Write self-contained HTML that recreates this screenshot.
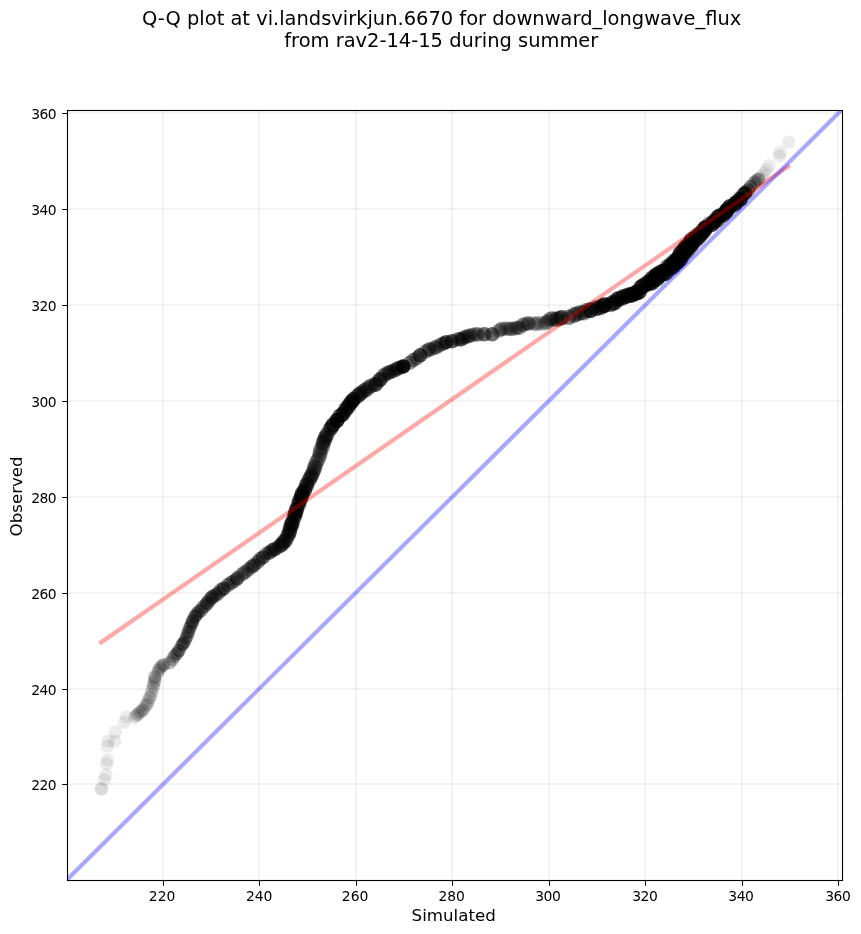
<!DOCTYPE html>
<html lang="en"><head><meta charset="utf-8"><title>Q-Q plot</title>
<style>html,body{margin:0;padding:0;background:#fff;width:861px;height:934px;overflow:hidden}</style>
</head><body>
<svg width="861" height="934" viewBox="0 0 861 934" style="position:absolute;left:0;top:0;will-change:transform">
<rect x="0" y="0" width="861" height="934" fill="#fff"/>
<g stroke="#000" stroke-opacity="0.047" stroke-width="2" fill="none"><path d="M163.00 110.5V880.5M259.00 110.5V880.5M356.00 110.5V880.5M452.00 110.5V880.5M549.00 110.5V880.5M645.00 110.5V880.5M742.00 110.5V880.5M838.00 110.5V880.5"/><path d="M67.5 784.00H842.5M67.5 689.00H842.5M67.5 593.00H842.5M67.5 497.00H842.5M67.5 401.00H842.5M67.5 305.00H842.5M67.5 209.00H842.5M67.5 113.00H842.5"/></g>
<clipPath id="c"><rect x="67.5" y="110.5" width="775.0" height="770.0"/></clipPath>
<g fill="#000" fill-opacity="0.075" clip-path="url(#c)"><circle cx="101.4" cy="789.2" r="6.75"/><circle cx="101.6" cy="788.6" r="6.75"/><circle cx="104.2" cy="779.7" r="6.75"/><circle cx="106.0" cy="775.3" r="6.75"/><circle cx="106.6" cy="764.1" r="6.75"/><circle cx="107.5" cy="759.9" r="6.75"/><circle cx="107.5" cy="746.3" r="6.75"/><circle cx="108.2" cy="741.3" r="6.75"/><circle cx="114.8" cy="741.3" r="6.75"/><circle cx="115.3" cy="732.0" r="6.75"/><circle cx="124.2" cy="722.3" r="6.75"/><circle cx="126.5" cy="717.1" r="6.75"/><circle cx="134.9" cy="717.2" r="6.75" fill-opacity="0.106"/><circle cx="136.2" cy="715.2" r="6.75" fill-opacity="0.101"/><circle cx="137.8" cy="714.3" r="6.75" fill-opacity="0.191"/><circle cx="140.2" cy="711.9" r="6.75" fill-opacity="0.219"/><circle cx="142.9" cy="710.0" r="6.75" fill-opacity="0.243"/><circle cx="144.8" cy="706.9" r="6.75" fill-opacity="0.071"/><circle cx="145.3" cy="705.7" r="6.75" fill-opacity="0.027"/><circle cx="145.8" cy="705.5" r="6.75" fill-opacity="0.048"/><circle cx="146.2" cy="704.9" r="6.75" fill-opacity="0.084"/><circle cx="147.5" cy="704.0" r="6.75" fill-opacity="0.153"/><circle cx="148.1" cy="701.0" r="6.75" fill-opacity="0.114"/><circle cx="149.2" cy="698.5" r="6.75" fill-opacity="0.075"/><circle cx="149.9" cy="697.2" r="6.75" fill-opacity="0.156"/><circle cx="151.4" cy="694.5" r="6.75" fill-opacity="0.105"/><circle cx="151.6" cy="691.2" r="6.75" fill-opacity="0.136"/><circle cx="152.9" cy="688.3" r="6.75" fill-opacity="0.082"/><circle cx="153.5" cy="686.5" r="6.75" fill-opacity="0.125"/><circle cx="153.6" cy="683.7" r="6.75" fill-opacity="0.172"/><circle cx="154.8" cy="681.0" r="6.75" fill-opacity="0.162"/><circle cx="154.7" cy="678.9" r="6.75" fill-opacity="0.043"/><circle cx="154.9" cy="678.3" r="6.75" fill-opacity="0.080"/><circle cx="154.8" cy="677.0" r="6.75" fill-opacity="0.218"/><circle cx="157.5" cy="673.2" r="6.75" fill-opacity="0.127"/><circle cx="158.4" cy="670.8" r="6.75" fill-opacity="0.121"/><circle cx="158.9" cy="669.4" r="6.75" fill-opacity="0.097"/><circle cx="159.9" cy="668.7" r="6.75" fill-opacity="0.097"/><circle cx="160.4" cy="667.1" r="6.75" fill-opacity="0.164"/><circle cx="162.0" cy="666.1" r="6.75" fill-opacity="0.140"/><circle cx="163.7" cy="664.8" r="6.75" fill-opacity="0.273"/><circle cx="169.7" cy="662.8" r="6.75" fill-opacity="0.262"/><circle cx="172.7" cy="659.4" r="6.75" fill-opacity="0.244"/><circle cx="174.0" cy="656.5" r="6.75" fill-opacity="0.276"/><circle cx="175.4" cy="654.4" r="6.75" fill-opacity="0.134"/><circle cx="177.1" cy="653.6" r="6.75" fill-opacity="0.374"/><circle cx="178.9" cy="650.6" r="6.75" fill-opacity="0.432"/><circle cx="181.4" cy="646.8" r="6.75" fill-opacity="0.134"/><circle cx="181.6" cy="645.2" r="6.75" fill-opacity="0.171"/><circle cx="182.6" cy="644.0" r="6.75" fill-opacity="0.077"/><circle cx="183.0" cy="643.7" r="6.75" fill-opacity="0.454"/><circle cx="184.8" cy="641.2" r="6.75" fill-opacity="0.318"/><circle cx="186.0" cy="637.9" r="6.75" fill-opacity="0.336"/><circle cx="187.5" cy="635.5" r="6.75" fill-opacity="0.274"/><circle cx="187.4" cy="632.8" r="6.75" fill-opacity="0.183"/><circle cx="188.7" cy="631.8" r="6.75" fill-opacity="0.378"/><circle cx="189.3" cy="628.3" r="6.75" fill-opacity="0.211"/><circle cx="190.3" cy="626.9" r="6.76" fill-opacity="0.303"/><circle cx="191.2" cy="624.8" r="6.77" fill-opacity="0.154"/><circle cx="191.9" cy="623.7" r="6.79" fill-opacity="0.276"/><circle cx="192.5" cy="621.1" r="6.80" fill-opacity="0.504"/><circle cx="195.2" cy="617.3" r="6.85" fill-opacity="0.118"/><circle cx="195.0" cy="616.4" r="6.85" fill-opacity="0.461"/><circle cx="196.9" cy="614.0" r="6.89" fill-opacity="0.386"/><circle cx="198.6" cy="611.6" r="6.92" fill-opacity="0.316"/><circle cx="201.0" cy="610.5" r="6.97" fill-opacity="0.359"/><circle cx="202.4" cy="607.5" r="7.00" fill-opacity="0.173"/><circle cx="203.5" cy="607.0" r="7.02" fill-opacity="0.204"/><circle cx="204.8" cy="606.0" r="7.05" fill-opacity="0.240"/><circle cx="206.6" cy="604.5" r="7.08" fill-opacity="0.155"/><circle cx="207.1" cy="603.1" r="7.09" fill-opacity="0.487"/><circle cx="209.4" cy="600.4" r="7.14" fill-opacity="0.277"/><circle cx="210.4" cy="598.7" r="7.15" fill-opacity="0.206"/><circle cx="212.3" cy="598.2" r="7.15" fill-opacity="0.110"/><circle cx="212.2" cy="597.0" r="7.15" fill-opacity="0.526"/><circle cx="215.6" cy="595.1" r="7.15" fill-opacity="0.444"/><circle cx="218.6" cy="592.9" r="7.15" fill-opacity="0.396"/><circle cx="220.8" cy="590.1" r="7.15" fill-opacity="0.378"/><circle cx="223.6" cy="588.6" r="7.15" fill-opacity="0.566"/><circle cx="227.3" cy="585.1" r="7.15" fill-opacity="0.115"/><circle cx="228.3" cy="584.9" r="7.15" fill-opacity="0.348"/><circle cx="230.8" cy="583.0" r="7.15" fill-opacity="0.326"/><circle cx="233.1" cy="581.6" r="7.15" fill-opacity="0.354"/><circle cx="235.7" cy="580.3" r="7.15" fill-opacity="0.279"/><circle cx="237.4" cy="578.2" r="7.15" fill-opacity="0.534"/><circle cx="241.3" cy="574.9" r="7.15" fill-opacity="0.217"/><circle cx="242.7" cy="574.1" r="7.15" fill-opacity="0.069"/><circle cx="242.9" cy="573.3" r="7.15" fill-opacity="0.196"/><circle cx="244.8" cy="572.5" r="7.15" fill-opacity="0.348"/><circle cx="247.1" cy="570.9" r="7.15" fill-opacity="0.185"/><circle cx="248.3" cy="569.5" r="7.15" fill-opacity="0.298"/><circle cx="250.5" cy="567.6" r="7.15" fill-opacity="0.150"/><circle cx="251.6" cy="566.8" r="7.15" fill-opacity="0.174"/><circle cx="252.7" cy="566.1" r="7.15" fill-opacity="0.417"/><circle cx="254.6" cy="564.7" r="7.15" fill-opacity="0.381"/><circle cx="258.0" cy="561.9" r="7.15" fill-opacity="0.389"/><circle cx="259.9" cy="559.2" r="7.15" fill-opacity="0.406"/><circle cx="263.1" cy="557.3" r="7.15" fill-opacity="0.551"/><circle cx="266.0" cy="553.7" r="7.15" fill-opacity="0.274"/><circle cx="268.5" cy="553.0" r="7.15" fill-opacity="0.247"/><circle cx="269.9" cy="552.5" r="7.15" fill-opacity="0.444"/><circle cx="272.2" cy="550.2" r="7.21" fill-opacity="0.452"/><circle cx="274.8" cy="549.2" r="7.28" fill-opacity="0.604"/><circle cx="279.2" cy="546.6" r="7.39" fill-opacity="0.101"/><circle cx="279.3" cy="546.3" r="7.40" fill-opacity="0.413"/><circle cx="281.1" cy="545.1" r="7.45" fill-opacity="0.324"/><circle cx="282.3" cy="543.9" r="7.48" fill-opacity="0.515"/><circle cx="283.6" cy="541.5" r="7.51" fill-opacity="0.315"/><circle cx="285.2" cy="540.9" r="7.55" fill-opacity="0.568"/><circle cx="287.2" cy="537.6" r="7.55" fill-opacity="0.377"/><circle cx="287.6" cy="535.2" r="7.55" fill-opacity="0.214"/><circle cx="288.8" cy="534.0" r="7.55" fill-opacity="0.490"/><circle cx="289.7" cy="531.3" r="7.55" fill-opacity="0.543"/><circle cx="290.1" cy="528.5" r="7.55" fill-opacity="0.502"/><circle cx="290.7" cy="525.7" r="7.55" fill-opacity="0.327"/><circle cx="291.8" cy="524.8" r="7.55" fill-opacity="0.503"/><circle cx="292.2" cy="522.6" r="7.55" fill-opacity="0.663"/><circle cx="293.6" cy="518.4" r="7.55" fill-opacity="0.311"/><circle cx="294.6" cy="516.8" r="7.55" fill-opacity="0.369"/><circle cx="294.6" cy="514.5" r="7.55" fill-opacity="0.161"/><circle cx="295.3" cy="513.7" r="7.55" fill-opacity="0.736"/><circle cx="296.5" cy="510.6" r="7.55" fill-opacity="0.251"/><circle cx="296.6" cy="509.1" r="7.55" fill-opacity="0.689"/><circle cx="298.5" cy="505.0" r="7.55" fill-opacity="0.133"/><circle cx="298.9" cy="504.4" r="7.55" fill-opacity="0.453"/><circle cx="298.8" cy="502.5" r="7.55" fill-opacity="0.344"/><circle cx="299.3" cy="501.0" r="7.55" fill-opacity="0.410"/><circle cx="300.3" cy="499.4" r="7.55" fill-opacity="0.416"/><circle cx="301.5" cy="497.7" r="7.55" fill-opacity="0.260"/><circle cx="301.3" cy="496.5" r="7.55" fill-opacity="0.526"/><circle cx="302.3" cy="494.8" r="7.55" fill-opacity="0.241"/><circle cx="302.2" cy="493.3" r="7.55" fill-opacity="0.632"/><circle cx="304.5" cy="490.2" r="7.55" fill-opacity="0.674"/><circle cx="306.2" cy="487.1" r="7.55" fill-opacity="0.144"/><circle cx="306.5" cy="486.2" r="7.55" fill-opacity="0.340"/><circle cx="306.8" cy="484.1" r="7.55" fill-opacity="0.579"/><circle cx="309.0" cy="480.7" r="7.55" fill-opacity="0.324"/><circle cx="309.3" cy="478.9" r="7.55" fill-opacity="0.178"/><circle cx="310.0" cy="478.2" r="7.55" fill-opacity="0.380"/><circle cx="311.3" cy="476.0" r="7.55" fill-opacity="0.481"/><circle cx="312.4" cy="473.4" r="7.55" fill-opacity="0.467"/><circle cx="313.9" cy="470.3" r="7.55" fill-opacity="0.353"/><circle cx="314.4" cy="468.3" r="7.55" fill-opacity="0.140"/><circle cx="315.1" cy="467.6" r="7.55" fill-opacity="0.156"/><circle cx="314.9" cy="466.6" r="7.55" fill-opacity="0.392"/><circle cx="315.9" cy="463.2" r="7.55" fill-opacity="0.151"/><circle cx="316.5" cy="462.1" r="7.55" fill-opacity="0.271"/><circle cx="318.2" cy="459.6" r="7.55" fill-opacity="0.336"/><circle cx="319.2" cy="456.8" r="7.55" fill-opacity="0.069"/><circle cx="319.6" cy="456.0" r="7.55" fill-opacity="0.206"/><circle cx="320.1" cy="454.5" r="7.55" fill-opacity="0.241"/><circle cx="320.1" cy="452.2" r="7.55" fill-opacity="0.295"/><circle cx="320.6" cy="449.4" r="7.55" fill-opacity="0.307"/><circle cx="322.4" cy="447.7" r="7.55" fill-opacity="0.326"/><circle cx="323.1" cy="444.7" r="7.55" fill-opacity="0.165"/><circle cx="323.6" cy="443.6" r="7.55" fill-opacity="0.138"/><circle cx="323.1" cy="442.4" r="7.55" fill-opacity="0.474"/><circle cx="324.5" cy="440.2" r="7.55" fill-opacity="0.351"/><circle cx="325.4" cy="437.7" r="7.55" fill-opacity="0.546"/><circle cx="326.9" cy="434.6" r="7.55" fill-opacity="0.528"/><circle cx="329.5" cy="430.2" r="7.55" fill-opacity="0.325"/><circle cx="331.1" cy="428.1" r="7.55" fill-opacity="0.042"/><circle cx="331.0" cy="427.8" r="7.55" fill-opacity="0.592"/><circle cx="333.0" cy="424.9" r="7.55" fill-opacity="0.728"/><circle cx="336.3" cy="420.7" r="7.55" fill-opacity="0.144"/><circle cx="337.1" cy="420.3" r="7.55" fill-opacity="0.841"/><circle cx="340.1" cy="415.7" r="7.55" fill-opacity="0.573"/><circle cx="342.6" cy="414.4" r="7.55" fill-opacity="0.708"/><circle cx="344.7" cy="411.4" r="7.55" fill-opacity="0.268"/><circle cx="345.1" cy="410.2" r="7.55" fill-opacity="0.212"/><circle cx="346.0" cy="409.7" r="7.55" fill-opacity="0.411"/><circle cx="346.6" cy="407.8" r="7.55" fill-opacity="0.377"/><circle cx="348.5" cy="406.7" r="7.55" fill-opacity="0.484"/><circle cx="349.5" cy="404.3" r="7.55" fill-opacity="0.446"/><circle cx="350.2" cy="403.0" r="7.55" fill-opacity="0.240"/><circle cx="351.2" cy="401.7" r="7.55" fill-opacity="0.219"/><circle cx="352.1" cy="401.6" r="7.55" fill-opacity="0.625"/><circle cx="353.6" cy="399.4" r="7.55" fill-opacity="0.683"/><circle cx="356.7" cy="397.0" r="7.55" fill-opacity="0.127"/><circle cx="356.9" cy="396.1" r="7.55" fill-opacity="0.233"/><circle cx="357.9" cy="395.8" r="7.55" fill-opacity="0.170"/><circle cx="358.8" cy="395.4" r="7.55" fill-opacity="0.209"/><circle cx="359.5" cy="394.2" r="7.55" fill-opacity="0.380"/><circle cx="360.9" cy="393.2" r="7.54" fill-opacity="0.378"/><circle cx="362.3" cy="392.0" r="7.53" fill-opacity="0.261"/><circle cx="363.8" cy="390.7" r="7.52" fill-opacity="0.271"/><circle cx="365.5" cy="390.1" r="7.51" fill-opacity="0.418"/><circle cx="367.5" cy="388.2" r="7.49" fill-opacity="0.270"/><circle cx="369.1" cy="387.4" r="7.48" fill-opacity="0.228"/><circle cx="370.6" cy="386.0" r="7.47" fill-opacity="0.431"/><circle cx="373.7" cy="384.9" r="7.45" fill-opacity="0.252"/><circle cx="375.8" cy="384.2" r="7.43" fill-opacity="0.640"/><circle cx="378.7" cy="381.1" r="7.41" fill-opacity="0.223"/><circle cx="379.4" cy="379.5" r="7.40" fill-opacity="0.144"/><circle cx="380.4" cy="379.4" r="7.40" fill-opacity="0.586"/><circle cx="383.0" cy="376.6" r="7.38" fill-opacity="0.159"/><circle cx="383.5" cy="375.6" r="7.37" fill-opacity="0.208"/><circle cx="385.0" cy="374.5" r="7.36" fill-opacity="0.328"/><circle cx="386.9" cy="373.2" r="7.35" fill-opacity="0.129"/><circle cx="387.8" cy="373.3" r="7.34" fill-opacity="0.271"/><circle cx="389.0" cy="372.4" r="7.33" fill-opacity="0.292"/><circle cx="390.3" cy="371.9" r="7.32" fill-opacity="0.374"/><circle cx="392.8" cy="371.4" r="7.30" fill-opacity="0.369"/><circle cx="394.9" cy="369.9" r="7.29" fill-opacity="0.288"/><circle cx="396.4" cy="369.5" r="7.28" fill-opacity="0.350"/><circle cx="397.6" cy="368.4" r="7.27" fill-opacity="0.212"/><circle cx="398.7" cy="368.0" r="7.26" fill-opacity="0.452"/><circle cx="401.4" cy="366.8" r="7.25" fill-opacity="0.191"/><circle cx="402.8" cy="367.2" r="7.25" fill-opacity="0.120"/><circle cx="403.3" cy="366.4" r="7.25" fill-opacity="0.866"/><circle cx="409.9" cy="362.7" r="7.25" fill-opacity="0.418"/><circle cx="413.3" cy="360.1" r="7.25" fill-opacity="0.411"/><circle cx="416.9" cy="358.1" r="7.25" fill-opacity="0.377"/><circle cx="420.2" cy="355.3" r="7.25" fill-opacity="0.662"/><circle cx="425.7" cy="351.5" r="7.25" fill-opacity="0.371"/><circle cx="428.7" cy="350.3" r="7.25" fill-opacity="0.166"/><circle cx="429.3" cy="349.4" r="7.25" fill-opacity="0.500"/><circle cx="432.7" cy="348.9" r="7.25" fill-opacity="0.189"/><circle cx="434.3" cy="347.3" r="7.25" fill-opacity="0.238"/><circle cx="436.1" cy="347.4" r="7.25" fill-opacity="0.423"/><circle cx="439.2" cy="345.5" r="7.25" fill-opacity="0.250"/><circle cx="441.3" cy="344.4" r="7.25" fill-opacity="0.320"/><circle cx="443.5" cy="343.4" r="7.25" fill-opacity="0.388"/><circle cx="446.2" cy="342.2" r="7.25" fill-opacity="0.664"/><circle cx="452.2" cy="341.2" r="7.25" fill-opacity="0.639"/><circle cx="457.3" cy="339.2" r="7.25" fill-opacity="0.131"/><circle cx="458.3" cy="339.2" r="7.25" fill-opacity="0.358"/><circle cx="460.4" cy="339.5" r="7.25" fill-opacity="0.250"/><circle cx="461.6" cy="339.2" r="7.25" fill-opacity="0.509"/><circle cx="464.2" cy="337.3" r="7.25" fill-opacity="0.441"/><circle cx="466.7" cy="337.1" r="7.25" fill-opacity="0.250"/><circle cx="467.8" cy="336.1" r="7.25" fill-opacity="0.255"/><circle cx="469.7" cy="335.7" r="7.25" fill-opacity="0.369"/><circle cx="472.2" cy="335.1" r="7.25" fill-opacity="0.338"/><circle cx="474.9" cy="334.1" r="7.25" fill-opacity="0.098"/><circle cx="475.8" cy="334.3" r="7.25" fill-opacity="0.250"/><circle cx="477.9" cy="334.6" r="7.25" fill-opacity="0.382"/><circle cx="482.7" cy="334.3" r="7.25" fill-opacity="0.128"/><circle cx="484.6" cy="334.3" r="7.25" fill-opacity="0.513"/><circle cx="492.2" cy="334.3" r="7.25" fill-opacity="0.568"/><circle cx="498.8" cy="331.4" r="7.25" fill-opacity="0.118"/><circle cx="499.1" cy="330.4" r="7.25" fill-opacity="0.292"/><circle cx="501.6" cy="329.1" r="7.25" fill-opacity="0.391"/><circle cx="505.3" cy="328.8" r="7.25" fill-opacity="0.253"/><circle cx="507.5" cy="328.4" r="7.25" fill-opacity="0.215"/><circle cx="509.9" cy="328.9" r="7.25" fill-opacity="0.154"/><circle cx="511.1" cy="328.9" r="7.25" fill-opacity="0.366"/><circle cx="514.8" cy="328.5" r="7.25" fill-opacity="0.333"/><circle cx="517.1" cy="327.7" r="7.25" fill-opacity="0.318"/><circle cx="519.5" cy="327.9" r="7.25" fill-opacity="0.309"/><circle cx="522.2" cy="325.4" r="7.25" fill-opacity="0.196"/><circle cx="523.7" cy="324.5" r="7.25" fill-opacity="0.329"/><circle cx="526.4" cy="323.4" r="7.25" fill-opacity="0.195"/><circle cx="528.4" cy="323.6" r="7.25" fill-opacity="0.470"/><circle cx="533.1" cy="323.2" r="7.25" fill-opacity="0.172"/><circle cx="535.0" cy="324.0" r="7.25" fill-opacity="0.159"/><circle cx="536.2" cy="324.2" r="7.25" fill-opacity="0.172"/><circle cx="538.2" cy="323.0" r="7.25" fill-opacity="0.232"/><circle cx="541.2" cy="323.9" r="7.28" fill-opacity="0.178"/><circle cx="544.2" cy="323.2" r="7.35" fill-opacity="0.108"/><circle cx="545.2" cy="323.1" r="7.38" fill-opacity="0.151"/><circle cx="546.5" cy="322.4" r="7.41" fill-opacity="0.211"/><circle cx="548.3" cy="321.5" r="7.46" fill-opacity="0.250"/><circle cx="549.7" cy="319.4" r="7.49" fill-opacity="0.323"/><circle cx="552.1" cy="318.5" r="7.55" fill-opacity="0.369"/><circle cx="555.2" cy="319.2" r="7.63" fill-opacity="0.087"/><circle cx="555.7" cy="319.3" r="7.64" fill-opacity="0.340"/><circle cx="557.9" cy="319.0" r="7.70" fill-opacity="0.406"/><circle cx="561.4" cy="317.8" r="7.75" fill-opacity="0.681"/><circle cx="568.8" cy="317.3" r="7.77" fill-opacity="0.476"/><circle cx="573.3" cy="315.8" r="7.78" fill-opacity="0.181"/><circle cx="574.1" cy="314.9" r="7.78" fill-opacity="0.217"/><circle cx="575.7" cy="314.4" r="7.79" fill-opacity="0.394"/><circle cx="578.6" cy="313.2" r="7.79" fill-opacity="0.287"/><circle cx="580.8" cy="312.7" r="7.80" fill-opacity="0.353"/><circle cx="584.1" cy="312.8" r="7.81" fill-opacity="0.406"/><circle cx="586.3" cy="310.6" r="7.81" fill-opacity="0.276"/><circle cx="588.2" cy="310.4" r="7.82" fill-opacity="0.274"/><circle cx="590.8" cy="310.1" r="7.82" fill-opacity="0.721"/><circle cx="596.2" cy="308.1" r="7.84" fill-opacity="0.526"/><circle cx="599.0" cy="307.8" r="7.84" fill-opacity="0.457"/><circle cx="601.5" cy="306.9" r="7.85" fill-opacity="0.419"/><circle cx="603.0" cy="305.8" r="7.85" fill-opacity="0.307"/><circle cx="604.3" cy="305.1" r="7.85" fill-opacity="0.763"/><circle cx="610.5" cy="304.5" r="7.87" fill-opacity="0.495"/><circle cx="612.6" cy="302.9" r="7.87" fill-opacity="0.539"/><circle cx="614.7" cy="302.6" r="7.88" fill-opacity="0.539"/><circle cx="617.0" cy="299.8" r="7.88" fill-opacity="0.411"/><circle cx="618.7" cy="298.9" r="7.89" fill-opacity="0.656"/><circle cx="622.5" cy="298.0" r="7.90" fill-opacity="0.354"/><circle cx="623.5" cy="296.8" r="7.90" fill-opacity="0.609"/><circle cx="626.8" cy="296.0" r="7.91" fill-opacity="0.535"/><circle cx="628.9" cy="295.0" r="7.91" fill-opacity="0.270"/><circle cx="630.0" cy="295.2" r="7.91" fill-opacity="0.613"/><circle cx="632.6" cy="294.5" r="7.92" fill-opacity="0.729"/><circle cx="636.1" cy="292.8" r="7.93" fill-opacity="0.799"/><circle cx="638.9" cy="291.8" r="7.94" fill-opacity="0.727"/><circle cx="641.4" cy="287.1" r="7.94" fill-opacity="0.764"/><circle cx="644.4" cy="285.2" r="7.95" fill-opacity="0.619"/><circle cx="646.9" cy="283.8" r="8.14" fill-opacity="0.464"/><circle cx="649.1" cy="282.5" r="8.36" fill-opacity="0.522"/><circle cx="651.3" cy="282.2" r="8.58" fill-opacity="0.668"/><circle cx="652.6" cy="280.3" r="8.71" fill-opacity="0.286"/><circle cx="652.8" cy="278.8" r="8.73" fill-opacity="0.638"/><circle cx="655.5" cy="278.3" r="8.95" fill-opacity="0.208"/><circle cx="656.4" cy="277.9" r="8.95" fill-opacity="0.448"/><circle cx="657.3" cy="275.8" r="8.95" fill-opacity="0.826"/><circle cx="661.9" cy="272.9" r="8.95" fill-opacity="0.747"/><circle cx="664.9" cy="272.2" r="8.95" fill-opacity="0.686"/><circle cx="668.3" cy="267.7" r="8.95" fill-opacity="0.471"/><circle cx="670.3" cy="267.3" r="8.95" fill-opacity="0.498"/><circle cx="671.1" cy="265.5" r="8.95" fill-opacity="0.183"/><circle cx="672.1" cy="265.7" r="8.95" fill-opacity="0.341"/><circle cx="673.2" cy="264.8" r="8.95" fill-opacity="0.469"/><circle cx="673.9" cy="262.7" r="8.95" fill-opacity="0.270"/><circle cx="675.5" cy="262.3" r="8.95" fill-opacity="0.491"/><circle cx="676.8" cy="260.9" r="8.95" fill-opacity="0.311"/><circle cx="677.7" cy="260.5" r="8.95" fill-opacity="0.607"/><circle cx="679.8" cy="258.5" r="8.95" fill-opacity="0.517"/><circle cx="680.4" cy="255.5" r="8.95" fill-opacity="0.233"/><circle cx="681.7" cy="255.4" r="8.95" fill-opacity="0.209"/><circle cx="681.4" cy="253.8" r="8.95" fill-opacity="0.658"/><circle cx="683.9" cy="251.5" r="8.95" fill-opacity="0.566"/><circle cx="686.5" cy="250.7" r="8.95" fill-opacity="0.246"/><circle cx="686.0" cy="248.8" r="8.95" fill-opacity="0.500"/><circle cx="686.9" cy="247.3" r="8.95" fill-opacity="0.612"/><circle cx="689.7" cy="245.2" r="8.95" fill-opacity="0.673"/><circle cx="691.6" cy="242.6" r="8.95" fill-opacity="0.562"/><circle cx="692.6" cy="240.5" r="8.95" fill-opacity="0.634"/><circle cx="695.7" cy="239.0" r="8.86" fill-opacity="0.376"/><circle cx="696.4" cy="236.9" r="8.78" fill-opacity="0.341"/><circle cx="698.1" cy="236.7" r="8.58" fill-opacity="0.578"/><circle cx="699.8" cy="234.4" r="8.37" fill-opacity="0.446"/><circle cx="701.7" cy="233.2" r="8.15" fill-opacity="0.515"/><circle cx="702.7" cy="231.2" r="8.03" fill-opacity="0.432"/><circle cx="704.7" cy="230.6" r="7.78" fill-opacity="0.506"/><circle cx="705.1" cy="228.1" r="7.75" fill-opacity="0.864"/><circle cx="708.6" cy="225.9" r="7.73" fill-opacity="0.284"/><circle cx="709.2" cy="224.1" r="7.73" fill-opacity="0.399"/><circle cx="712.0" cy="224.3" r="7.71" fill-opacity="0.669"/><circle cx="713.8" cy="222.4" r="7.70" fill-opacity="0.563"/><circle cx="714.8" cy="220.7" r="7.69" fill-opacity="0.564"/><circle cx="717.5" cy="220.1" r="7.68" fill-opacity="0.502"/><circle cx="717.7" cy="217.2" r="7.68" fill-opacity="0.585"/><circle cx="719.7" cy="215.9" r="7.67" fill-opacity="0.698"/><circle cx="722.9" cy="215.2" r="7.65" fill-opacity="0.653"/><circle cx="725.0" cy="212.8" r="7.64" fill-opacity="0.570"/><circle cx="726.8" cy="211.9" r="7.63" fill-opacity="0.241"/><circle cx="726.7" cy="210.5" r="7.63" fill-opacity="0.240"/><circle cx="727.0" cy="209.8" r="7.62" fill-opacity="0.814"/><circle cx="729.9" cy="206.7" r="7.61" fill-opacity="0.782"/><circle cx="734.5" cy="204.9" r="7.58" fill-opacity="0.537"/><circle cx="736.0" cy="202.7" r="7.57" fill-opacity="0.810"/><circle cx="739.1" cy="198.5" r="7.56" fill-opacity="0.200"/><circle cx="740.4" cy="199.1" r="7.52" fill-opacity="0.862"/><circle cx="743.5" cy="194.4" r="7.32" fill-opacity="0.442"/><circle cx="745.2" cy="192.9" r="7.20" fill-opacity="0.723"/><circle cx="748.0" cy="190.2" r="7.02" fill-opacity="0.472"/><circle cx="750.6" cy="186.6" r="6.85" fill-opacity="0.402"/><circle cx="753.5" cy="183.4" r="6.75" fill-opacity="0.069"/><circle cx="754.2" cy="183.1" r="6.75" fill-opacity="0.142"/><circle cx="755.0" cy="182.1" r="6.75" fill-opacity="0.235"/><circle cx="756.1" cy="180.2" r="6.75" fill-opacity="0.111"/><circle cx="757.4" cy="180.2" r="6.75" fill-opacity="0.133"/><circle cx="758.7" cy="179.1" r="6.75" fill-opacity="0.295"/><circle cx="761.5" cy="176.4" r="6.75" fill-opacity="0.074"/><circle cx="764.1" cy="173.4" r="6.75"/><circle cx="766.2" cy="169.9" r="6.75"/><circle cx="769.0" cy="165.7" r="6.75"/><circle cx="779.4" cy="156.1" r="6.75"/><circle cx="780.1" cy="152.2" r="6.75"/><circle cx="788.5" cy="142.3" r="6.75"/></g>
<g clip-path="url(#c)" fill="none" stroke-width="4.17"><path d="M101.1 642.3L788.1 166.5" stroke="#f00" stroke-opacity="0.34" stroke-linecap="square"/><path d="M66.44 880.29L842.94 108.63" stroke="#00f" stroke-opacity="0.34" stroke-linecap="square"/></g>
<rect x="67.5" y="110.5" width="775.0" height="770.0" fill="none" stroke="#000" stroke-width="1.1"/>
<path d="M163.50 880.5v5.3M259.50 880.5v5.3M356.50 880.5v5.3M452.50 880.5v5.3M549.50 880.5v5.3M645.50 880.5v5.3M742.50 880.5v5.3M838.50 880.5v5.3M67.5 784.50h-5.3M67.5 689.50h-5.3M67.5 593.50h-5.3M67.5 497.50h-5.3M67.5 401.50h-5.3M67.5 305.50h-5.3M67.5 209.50h-5.3M67.5 113.50h-5.3" stroke="#000" stroke-width="1.1" fill="none"/>
<g font-family="DejaVu Sans, Liberation Sans, sans-serif" font-size="13.89" fill="#000">
<text x="162.10" y="900.9" text-anchor="middle">220</text>
<text x="259.20" y="900.9" text-anchor="middle">240</text>
<text x="355.10" y="900.9" text-anchor="middle">260</text>
<text x="451.70" y="900.9" text-anchor="middle">280</text>
<text x="547.80" y="900.9" text-anchor="middle" letter-spacing="-0.4">300</text>
<text x="644.80" y="900.9" text-anchor="middle" letter-spacing="-0.4">320</text>
<text x="740.90" y="900.9" text-anchor="middle" letter-spacing="-0.4">340</text>
<text x="837.80" y="900.9" text-anchor="middle" letter-spacing="-0.4">360</text>
<text x="55.9" y="790.10" text-anchor="end" letter-spacing="-0.65">220</text>
<text x="55.9" y="695.10" text-anchor="end" letter-spacing="-0.65">240</text>
<text x="55.9" y="599.10" text-anchor="end" letter-spacing="-0.65">260</text>
<text x="55.9" y="503.10" text-anchor="end" letter-spacing="-0.65">280</text>
<text x="55.9" y="407.10" text-anchor="end" letter-spacing="-0.65">300</text>
<text x="55.9" y="311.10" text-anchor="end" letter-spacing="-0.65">320</text>
<text x="55.9" y="215.10" text-anchor="end" letter-spacing="-0.65">340</text>
<text x="55.9" y="119.10" text-anchor="end" letter-spacing="-0.65">360</text>
</g>
<text font-family="DejaVu Sans, Liberation Sans, sans-serif" font-size="16.67" x="453.7" y="921" text-anchor="middle">Simulated</text>
<text font-family="DejaVu Sans, Liberation Sans, sans-serif" font-size="16.67" transform="translate(22.3 496.4) rotate(-90)" text-anchor="middle">Observed</text>
<text font-family="DejaVu Sans, Liberation Sans, sans-serif" font-size="19.44" x="441.6" y="24.5" text-anchor="middle">Q-Q plot at vi.landsvirkjun.6670 for downward_longwave_flux</text>
<text font-family="DejaVu Sans, Liberation Sans, sans-serif" font-size="19.44" x="441.3" y="47.3" text-anchor="middle">from rav2-14-15 during summer</text>
</svg>
</body></html>
